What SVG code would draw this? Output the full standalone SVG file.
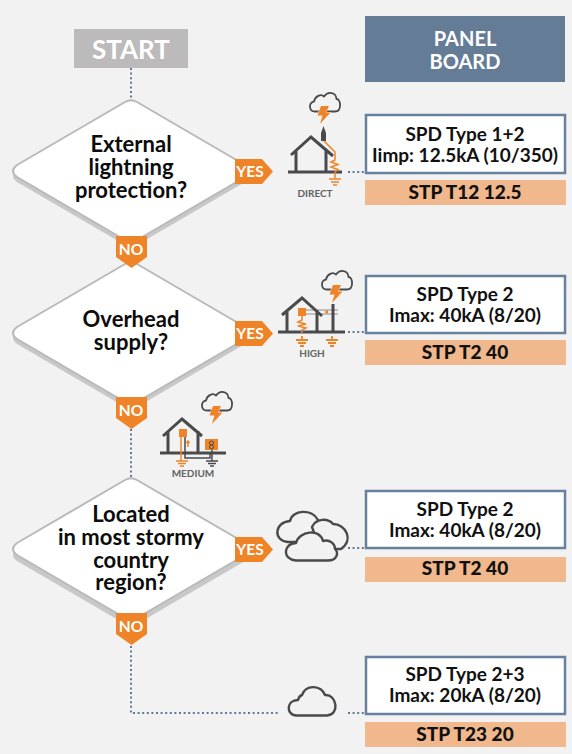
<svg xmlns="http://www.w3.org/2000/svg" width="572" height="754" viewBox="0 0 572 754">
<defs>
<style>
text{font-family:"Lato","Open Sans","Liberation Sans",sans-serif;text-anchor:middle;font-weight:700}
.q{font-size:22px;fill:#0c0c0c}
.b{font-size:19px;fill:#111}
.s{font-size:19px;font-weight:900;fill:#111}
.tag{font-size:15.500px;fill:#fff}
.lab{font-size:10px;fill:#626264}
.head{font-size:20px;fill:#fff}
.box{fill:#fff;stroke:#67809c;stroke-width:2.500}
.st{fill:#f0b88c}
.conn{fill:none;stroke:#5f7a99;stroke-width:2;stroke-dasharray:2 2.600}
.dia{fill:#fff;stroke:#b9b9b9;stroke-width:2;stroke-linejoin:round}
.sh{fill:#c9c8c8}
.or{fill:#ee8427}
.bolt{fill:#ee8427;stroke:#f2f2f2;stroke-width:1;paint-order:stroke}
.ic{fill:none;stroke:#4a4a4c;stroke-width:1.800;stroke-linejoin:round;stroke-linecap:round}
.hs{fill:none;stroke:#4a4a4c;stroke-width:3;stroke-linejoin:miter}
.ol{fill:none;stroke:#ee8427;stroke-width:1.500}
.wire{fill:none;stroke:#4a4a4c;stroke-width:1.500}
.lite{fill:none;stroke:#8c8c8e;stroke-width:1}
.cf{fill:#f2f2f2;stroke:#4a4a4c;stroke-width:2.400;stroke-linejoin:round}
</style>
<path id="d1" d="M125,102 Q131,98.500 137,102 L245,165 Q253,171 245,177 L137,240 Q131,243.500 125,240 L17,177 Q9,171 17,165 Z"/>
<path id="yes" d="M0,0H27L38,12.500L27,25H0Z"/>
<path id="no" d="M0,0H31V21L15.500,32L0,21Z"/>
<path id="bolt" d="M4,0H12L9,6.500H13.500L3,18L5.500,9.500H0.500Z"/>
<path id="cl" d="M5,18.500C-1.500,18.500 -1.500,9 4,8.500C5,3 11,0.500 14,3.500C18,-2 26,-1 26.500,6C31,6 32,18.500 25,18.500Z"/>
</defs>
<rect width="572" height="754" fill="#f2f2f2"/>
<g id="connectors">
<path class="conn" d="M131,68V98"/>
<path class="conn" d="M131,429V478"/>
<path class="conn" d="M131,646V713H280"/>
<path class="conn" d="M348,172H365"/>
<path class="conn" d="M348,332H365"/>
<path class="conn" d="M348,548H365"/>
<path class="conn" d="M348,713H365"/>
</g>
<g id="start"><rect x="74" y="29" width="114" height="39" fill="#bcbabb"/><text x="131" y="59" style="font-size:26px;fill:#fff">START</text></g>
<g id="panel"><rect x="365" y="16" width="200" height="66" fill="#647c96"/><text class="head" x="465" y="46">PANEL</text><text class="head" x="465" y="69">BOARD</text></g>

<g id="q1"><use href="#d1" class="sh" y="5"/><use href="#d1" class="dia"/>
<text class="q" x="131" y="152">External</text><text class="q" x="131" y="175">lightning</text><text class="q" x="131" y="198">protection?</text></g>
<g id="q2"><use href="#d1" class="sh" y="167"/><use href="#d1" class="dia" y="162"/>
<text class="q" x="131" y="327">Overhead</text><text class="q" x="131" y="350">supply?</text></g>
<g id="q3"><use href="#d1" class="sh" y="384"/><use href="#d1" class="dia" y="378"/>
<text class="q" x="131" y="522">Located</text><text class="q" x="131" y="545">in most stormy</text><text class="q" x="131" y="568">country</text><text class="q" x="131" y="590">region?</text></g>

<g id="tag-yes1"><use href="#yes" class="or" x="235" y="159"/><text class="tag" x="250" y="177">YES</text></g>
<g id="tag-yes2"><use href="#yes" class="or" x="235" y="321"/><text class="tag" x="250" y="339">YES</text></g>
<g id="tag-yes3"><use href="#yes" class="or" x="235" y="537"/><text class="tag" x="250" y="555">YES</text></g>
<g id="tag-no1"><use href="#no" class="or" x="116" y="236"/><text class="tag" x="131" y="255">NO</text></g>
<g id="tag-no2"><use href="#no" class="or" x="116" y="397"/><text class="tag" x="131" y="416">NO</text></g>
<g id="tag-no3"><use href="#no" class="or" x="116" y="613"/><text class="tag" x="131" y="632">NO</text></g>

<g id="icon-direct">
<use href="#cl" class="ic" x="310" y="93"/>
<use href="#bolt" class="bolt" x="317" y="106"/>
<path class="hs" d="M291,155L311,137L333,156M296,151V172M326,150V172M288,172H342"/>
<path d="M321,141V133L323.500,126L326,133V141Z" fill="#4a4a4c"/>
<path class="ol" d="M324,141L335,152V160L331,162L338,164.500L331,167L338,169.500L335,172V178"/>
<path d="M329,179H341M331,182H339M333,185H337" fill="none" stroke="#ee8427" stroke-width="1.500"/>
<text class="lab" x="315" y="197">DIRECT</text>
</g>
<g id="icon-high">
<use href="#cl" class="ic" x="322" y="271"/>
<use href="#bolt" class="bolt" x="329" y="285"/>
<path class="lite" d="M306,310H338M306,314H338"/>
<path class="hs" d="M282,315L302,298L322,316M287,310V332M317,310V332M278,332H345M333,304V332"/>
<rect x="298" y="308" width="8" height="8" fill="#ee8427"/>
<path class="ol" d="M302,316V320L298,322L306,324L298,326L306,328L302,330V333"/>
<path class="or" d="M324,312L328,310V314Z"/>
<path d="M302,336V340M296,340H308M298,343H306M300,346H304M332,336V340M326,340H338M328,343H336M330,346H334" fill="none" stroke="#ee8427" stroke-width="1.800"/>
<text class="lab" x="312" y="357">HIGH</text>
</g>
<g id="icon-medium">
<use href="#cl" class="ic" x="202" y="392"/>
<use href="#bolt" class="bolt" x="209" y="406"/>
<path class="hs" d="M163,436L182,419L202,436M168,431V453M198,431V453M160,453H226"/>
<rect x="179" y="429" width="8" height="8" fill="#ee8427"/>
<path class="ol" d="M181,437V461"/>
<path class="wire" d="M185,437V458H210V453"/>
<path class="ol" d="M188,447V441M186.500,443L188,441L189.500,443" stroke-width="0.800"/>
<rect x="205" y="439" width="13" height="11" fill="#ee8427"/>
<circle cx="211.500" cy="443" r="2" fill="none" stroke="#4a4a4c" stroke-width="1"/><circle cx="211.500" cy="447" r="2" fill="none" stroke="#4a4a4c" stroke-width="1"/>
<path class="wire" d="M212,450V461"/>
<path class="ol" d="M176,461H188M178,463.500H186M180,466H184"/>
<path class="wire" d="M206,461H218M208,463.500H216M210,466H214"/>
<text class="lab" x="193" y="477">MEDIUM</text>
</g>
<g id="icon-clouds">
<path class="cf" d="M300,542H288C273,541 274,522 290,521C292,510 312,508 318,520C320,526 318,542 310,542Z"/>
<path class="cf" d="M312,527C316,518 328,518 333,524C346,524 354,540 341,549H320Z"/>
<path class="cf" d="M296,560.500C283,560 282,544 296,543C299,531 320,528 323,541C330,539 335,544 335,549C339,553 337,560.500 328,560.500Z"/>
</g>
<g id="icon-cloud" transform="translate(288 686)" fill="none" stroke="#4a4a4c" stroke-width="2.400" stroke-linejoin="round">
<path d="M8,29.500C-2,29 -2,14 10,14C11,10 14,9 14,9C18,-2 33,-1 37,9C49,8 52,29 39,29.500Z"/>
</g>

<g id="box1"><rect class="box" x="366" y="115" width="199" height="58"/><text class="b" x="465" y="141">SPD Type 1+2</text><text class="b" x="465" y="162">Iimp: 12.5kA (10/350)</text></g>
<g id="stp1"><rect class="st" x="365" y="180" width="201" height="25"/><text class="s" x="465" y="199">STP T12 12.5</text></g>
<g id="box2"><rect class="box" x="366" y="276" width="199" height="57"/><text class="b" x="465" y="301">SPD Type 2</text><text class="b" x="465" y="322">Imax: 40kA (8/20)</text></g>
<g id="stp2"><rect class="st" x="365" y="340" width="201" height="25"/><text class="s" x="465" y="359">STP T2 40</text></g>
<g id="box3"><rect class="box" x="366" y="491" width="199" height="57"/><text class="b" x="465" y="516">SPD Type 2</text><text class="b" x="465" y="537">Imax: 40kA (8/20)</text></g>
<g id="stp3"><rect class="st" x="365" y="557" width="201" height="25"/><text class="s" x="465" y="575">STP T2 40</text></g>
<g id="box4"><rect class="box" x="366" y="657" width="199" height="57"/><text class="b" x="465" y="681">SPD Type 2+3</text><text class="b" x="465" y="702">Imax: 20kA (8/20)</text></g>
<g id="stp4"><rect class="st" x="365" y="722" width="201" height="25"/><text class="s" x="465" y="741">STP T23 20</text></g>
</svg>
